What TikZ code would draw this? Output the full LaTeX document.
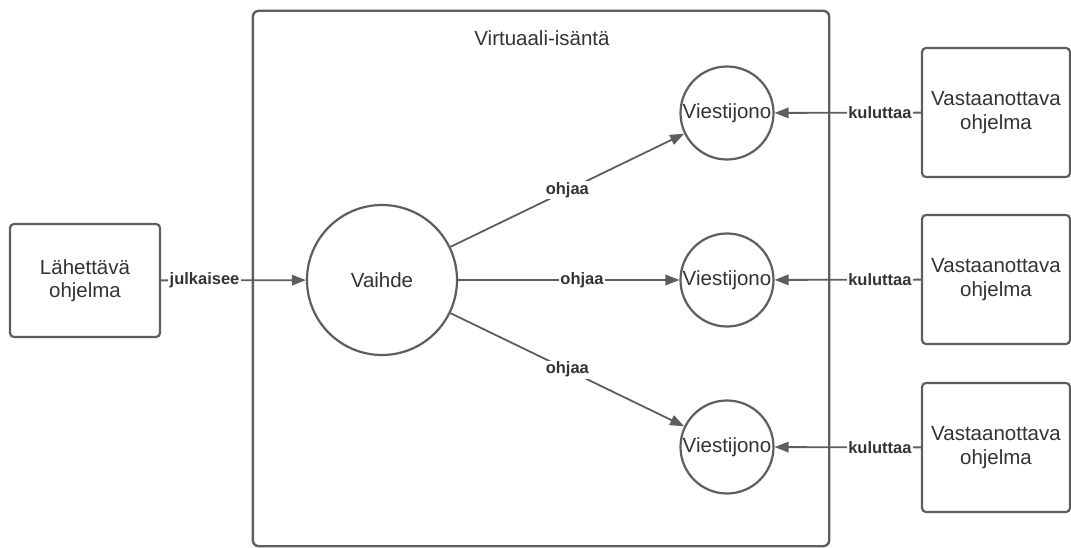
\documentclass[tikz,border=0pt]{standalone}
\usepackage{fontspec}
\setmainfont{Liberation Sans}
\usetikzlibrary{arrows.meta}
\definecolor{linegray}{HTML}{5E5E5E}
\definecolor{textgray}{HTML}{333333}
\begin{document}
\begin{tikzpicture}[x=1pt,y=-1pt,
  every node/.style={text=textgray, font=\fontsize{20.5}{23.5}\selectfont, align=center},
  appbox/.style={draw=linegray, line width=2.2pt, rounded corners=4pt, fill=white},
  hostbox/.style={draw=linegray, line width=2.4pt, rounded corners=6pt},
  exchange/.style={draw=linegray, line width=2.2pt, circle, minimum size=150pt, inner sep=0pt},
  queue/.style={draw=linegray, line width=2.2pt, circle, minimum size=93pt, inner sep=0pt},
  flow/.style={draw=linegray, line width=1.8pt, -{Triangle[length=14pt,width=10.5pt]}},
  lbl/.style={fill=white, inner sep=1.5pt, font=\bfseries\fontsize{16.5}{18}\selectfont}
]
\useasboundingbox (0,0) rectangle (1071,548);

% virtual host container with its title
\node[minimum width=576pt, minimum height=535pt, inner sep=0pt] (host) at (541,278.5) {};
\node (hosttitle) at (542,38) {Virtuaali-isäntä};

% publishing application
\node[appbox, minimum width=150pt, minimum height=113pt] (sender) at (85,280.5) {Lähettävä\\ohjelma};

% exchange and queues
\node[exchange, fill=white] (ex) at (382,280) {Vaihde};
\node[queue, fill=white] (q1) at (727,113) {Viestijono};
\node[queue, fill=white] (q2) at (727,280) {Viestijono};
\node[queue, fill=white] (q3) at (727,447) {Viestijono};

% consuming applications
\node[appbox, minimum width=148pt, minimum height=129pt] (r1) at (996,112.5) {Vastaanottava\\ohjelma};
\node[appbox, minimum width=148pt, minimum height=129pt] (r2) at (996,279.5) {Vastaanottava\\ohjelma};
\node[appbox, minimum width=148pt, minimum height=129pt] (r3) at (996,447.5) {Vastaanottava\\ohjelma};

% publish
\draw[flow] (sender) -- node[lbl, pos=0.3] {julkaisee} (ex);

% routing
\draw[flow] (ex) -- node[lbl, midway] {ohjaa} (q1);
\draw[flow] (ex) -- node[lbl, pos=0.56] {ohjaa} (q2);
\draw[flow] (ex) -- node[lbl, midway] {ohjaa} (q3);

% consuming
\draw[flow] (r1) -- node[lbl, pos=0.28] {kuluttaa} (q1);
\draw[flow] (r2) -- node[lbl, pos=0.28] {kuluttaa} (q2);
\draw[flow] (r3) -- node[lbl, pos=0.28] {kuluttaa} (q3);

% container border, drawn last so it crosses the connectors
\draw[hostbox] (host.north west) rectangle (host.south east);
\end{tikzpicture}
\end{document}
